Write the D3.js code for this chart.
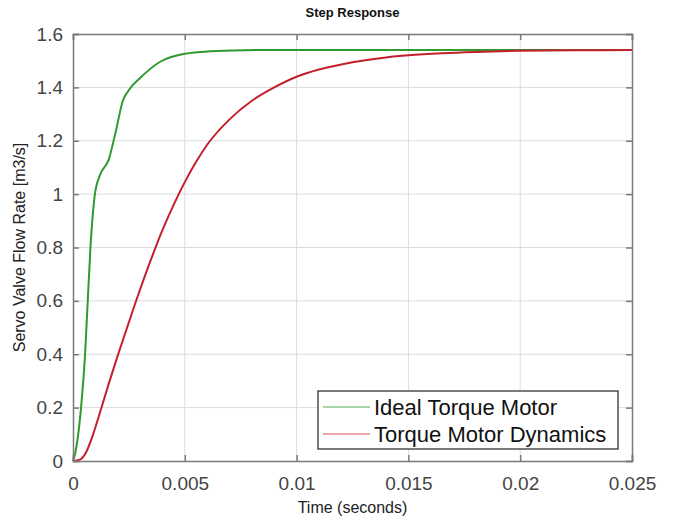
<!DOCTYPE html>
<html>
<head>
<meta charset="utf-8">
<script src="https://cdn.jsdelivr.net/npm/d3@7"></script>
<style>
  body { margin: 0; background: #fff; }
  svg { font-family: "Liberation Sans", Arial, sans-serif; }
</style>
</head>
<body>
<div id="chart"></div>
<script>
// values
const idealT   = [0, 0.0001, 0.00036, 0.00054, 0.00066, 0.00078, 0.00098, 0.0012, 0.0016, 0.0019, 0.00223, 0.0025, 0.003, 0.0039, 0.005, 0.0061, 0.0084, 0.025];
const idealQ   = [0, 0.03, 0.2, 0.4, 0.6, 0.8, 1.0, 1.07, 1.13, 1.23, 1.35, 1.39, 1.435, 1.496, 1.526, 1.535, 1.54, 1.54];
const dynT     = [0, 0.0003, 0.0006, 0.0009, 0.0012, 0.0016, 0.002, 0.0024, 0.0028, 0.0032, 0.0036, 0.004, 0.0045, 0.005, 0.0055, 0.006, 0.007, 0.008, 0.009, 0.01, 0.011, 0.012, 0.013, 0.014, 0.015, 0.0165, 0.018, 0.02, 0.0225, 0.025];
const dynQ     = [0, 0.005, 0.035, 0.1, 0.18, 0.29, 0.395, 0.495, 0.595, 0.69, 0.78, 0.865, 0.96, 1.045, 1.12, 1.185, 1.28, 1.35, 1.40, 1.44, 1.467, 1.486, 1.501, 1.512, 1.52, 1.528, 1.533, 1.537, 1.539, 1.54];
const xTicks   = [0, 0.005, 0.01, 0.015, 0.02, 0.025];
const yTicks   = [0, 0.2, 0.4, 0.6, 0.8, 1, 1.2, 1.4, 1.6];
const seriesNames = ['Ideal Torque Motor', 'Torque Motor Dynamics'];

const W = 687, H = 521;
const m = { left: 73, right: 55, top: 34, bottom: 60 };

const svg = d3.select('#chart').append('svg').attr('width', W).attr('height', H);

const x = d3.scaleLinear().domain([0, 0.025]).range([m.left, W - m.right]);
const y = d3.scaleLinear().domain([0, 1.6]).range([H - m.bottom, m.top]);

// grid
svg.append('g').selectAll('line').data(xTicks.slice(1, -1)).enter().append('line')
    .attr('x1', d => x(d)).attr('x2', d => x(d))
    .attr('y1', y(0)).attr('y2', y(1.6))
    .attr('stroke', '#dcdcdc').attr('stroke-width', 1);
svg.append('g').selectAll('line').data(yTicks.slice(1, -1)).enter().append('line')
    .attr('y1', d => y(d)).attr('y2', d => y(d))
    .attr('x1', x(0)).attr('x2', x(0.025))
    .attr('stroke', '#dcdcdc').attr('stroke-width', 1);

// lines
const line = d3.line().x(d => x(d[0])).y(d => y(d[1])).curve(d3.curveMonotoneX);
const ideal = idealT.map((t, i) => [t, idealQ[i]]);
const dyn = dynT.map((t, i) => [t, dynQ[i]]);

svg.append('path').datum(ideal).attr('d', line)
    .attr('fill', 'none').attr('stroke', '#2f9a2f').attr('stroke-width', 2);
svg.append('path').datum(dyn).attr('d', line)
    .attr('fill', 'none').attr('stroke', '#c4202c').attr('stroke-width', 2);

// axes (ticks inward, like matlab)
const fmt = d => d === 0 ? '0' : String(+d.toFixed(3));
const xAxis = svg.append('g').attr('transform', `translate(0,${y(0)})`)
    .call(d3.axisBottom(x).tickValues(xTicks).tickSize(-6).tickPadding(16).tickFormat(fmt));
const yAxis = svg.append('g').attr('transform', `translate(${x(0)},0)`)
    .call(d3.axisLeft(y).tickValues(yTicks).tickSize(-6).tickPadding(10).tickFormat(fmt));
svg.append('g').attr('transform', `translate(0,${y(1.6)})`)
    .call(d3.axisTop(x).tickValues(xTicks).tickSize(-6).tickFormat(''));
svg.append('g').attr('transform', `translate(${x(0.025)},0)`)
    .call(d3.axisRight(y).tickValues(yTicks).tickSize(-6).tickFormat(''));

svg.selectAll('.domain, .tick line').attr('stroke', '#7a7a7a').attr('stroke-width', 1.5);
xAxis.selectAll('text').attr('font-size', 19).attr('fill', '#444').attr('font-family', 'Liberation Sans, Arial');
yAxis.selectAll('text').attr('font-size', 19).attr('fill', '#444').attr('font-family', 'Liberation Sans, Arial');

// labels
svg.append('text').attr('x', (x(0) + x(0.025)) / 2).attr('y', 17)
    .attr('text-anchor', 'middle').attr('font-size', 13).attr('font-weight', 'bold')
    .attr('fill', '#111').text('Step Response');
svg.append('text').attr('x', (x(0) + x(0.025)) / 2).attr('y', 513)
    .attr('text-anchor', 'middle').attr('font-size', 16).attr('fill', '#222')
    .text('Time (seconds)');
svg.append('text').attr('transform', `translate(25,${(y(0) + y(1.6)) / 2}) rotate(-90)`)
    .attr('text-anchor', 'middle').attr('font-size', 16).attr('fill', '#222')
    .text('Servo Valve Flow Rate [m3/s]');

// legend
const lg = svg.append('g').attr('transform', 'translate(318,391)');
lg.append('rect').attr('width', 300).attr('height', 58)
    .attr('fill', '#fff').attr('stroke', '#222').attr('stroke-width', 1.2);
const colors = ['#4fb04f', '#d85060'];
seriesNames.forEach((name, i) => {
    const yy = 16 + i * 27;
    lg.append('line').attr('x1', 5).attr('x2', 52).attr('y1', yy).attr('y2', yy)
        .attr('stroke', colors[i]).attr('stroke-width', 1);
    lg.append('text').attr('x', 56).attr('y', yy + 8).attr('font-size', 22)
        .attr('fill', '#111').text(name);
});
</script>
</body>
</html>
